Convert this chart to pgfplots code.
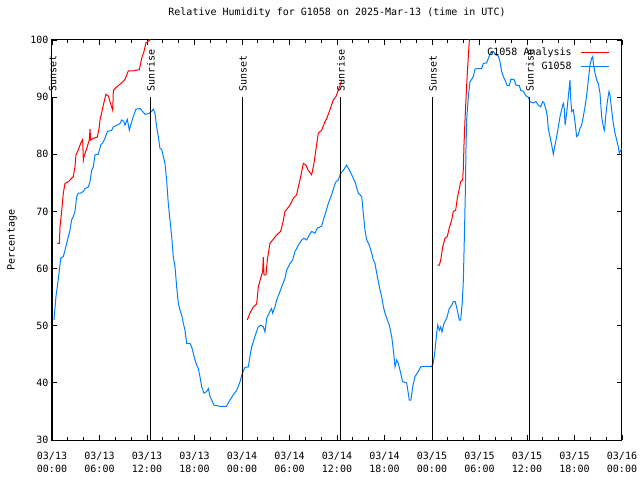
\documentclass[border=0pt]{standalone}
\usepackage{fontspec}
\setmainfont{DejaVu Sans Mono}
\usepackage{pgfplots}
\pgfplotsset{compat=1.18}
\definecolor{rhred}{RGB}{255,0,0}
\definecolor{rhblue}{RGB}{0,128,255}
\begin{document}
\begin{tikzpicture}
\useasboundingbox (0,0) rectangle (640pt,480pt);
\begin{axis}[
  at={(52pt,40pt)}, anchor=south west,
  scale only axis, width=570pt, height=400pt,
  xmin=0, xmax=72, ymin=30, ymax=100,
  xtick={0,6,...,72}, minor xtick={0,2,...,72},
  ytick={30,40,...,100},
  xticklabels={{03/13\\00:00},{03/13\\06:00},{03/13\\12:00},{03/13\\18:00},{03/14\\00:00},{03/14\\06:00},{03/14\\12:00},{03/14\\18:00},{03/15\\00:00},{03/15\\06:00},{03/15\\12:00},{03/15\\18:00},{03/16\\00:00}},
  xticklabel style={align=center, font=\fontsize{10}{13}\selectfont, yshift=-9pt},
  yticklabel style={font=\fontsize{10}{12}\selectfont},
  /pgf/number format/assume math mode=true,
  tick align=inside, major tick length=5pt, minor tick length=3pt,
  every tick/.style={black, line width=0.8pt},
  axis line style={black, line width=1pt},
  ylabel={Percentage},
  ylabel style={at={(axis description cs:-0.0702,0.5)}, anchor=center, font=\fontsize{10}{12}\selectfont},
  title={Relative Humidity for G1058 on 2025-Mar-13 (time in UTC)},
  title style={at={(axis description cs:0.5,1.0525)}, anchor=center, font=\fontsize{10}{12}\selectfont},
  unbounded coords=jump,
  clip mode=individual,
  legend plot pos=right,
  legend cell align=right,
  legend style={draw=none, fill=none, at={(axis description cs:0.979,0.985)}, anchor=north east,
    inner sep=0pt, row sep=1pt, font=\fontsize{10}{12}\selectfont},
]
\addplot[rhred, line width=1pt,
  legend image code/.code={\path (0pt,0pt); \draw[rhred, line width=1.3pt] (7pt,0pt) -- (35pt,0pt);}] coordinates {
(0.67,64.4) (0.93,64.4) (1.01,67.3) (1.22,70.0) (1.43,73.2) (1.64,74.9) (2.06,75.2) (2.69,76.1)
(2.9,77.8) (3.03,79.9) (3.33,80.8) (3.62,81.9) (3.87,82.6) (3.96,79.0) (4.04,79.6) (4.38,81.0)
(4.71,82.5) (4.8,84.4) (4.88,82.5) (5.22,82.8) (5.72,83.0) (5.98,84.8) (6.06,86.0) (6.27,87.2)
(6.48,88.6) (6.82,90.5) (7.11,90.2) (7.33,89.2) (7.67,87.7) (7.75,91.2) (8.17,91.8) (8.8,92.5)
(9.22,93.1) (9.64,94.6) (10.27,94.6) (11.03,94.8) (11.33,96.8) (11.62,98.0) (11.87,99.5) (12.38,100) (12.6,100.5)
(12.7,nan)
(24.67,51.0) (25.0,52.2) (25.43,53.3) (25.85,53.8) (26.06,56.8) (26.36,58.3) (26.61,59.5) (26.69,62.0)
(26.78,58.9) (27.03,58.9) (27.2,61.5) (27.53,64.4) (27.87,65.0) (28.38,65.9) (28.88,66.5) (29.14,67.9)
(29.43,70.0) (29.73,70.5) (30.06,71.1) (30.48,72.3) (30.9,72.9) (31.12,74.3) (31.42,76.1) (31.74,78.4)
(32.08,78.1) (32.37,77.2) (32.8,76.4) (33.09,78.4) (33.51,82.5) (33.64,83.7) (34.06,84.2) (34.48,85.7)
(34.77,86.5) (35.11,87.8) (35.53,89.5) (35.87,90.1) (36.16,91.2) (36.47,92.4) (36.6,93.0)
(37,nan)
(48.67,60.6) (48.93,60.6) (49.1,61.5) (49.35,63.8) (49.64,65.3) (49.93,65.6) (50.18,67.1) (50.49,68.5)
(50.69,70.0) (50.99,70.2) (51.2,72.3) (51.45,74.0) (51.62,75.2) (51.87,75.5) (51.96,77.5) (52.04,81.6)
(52.17,86.0) (52.3,89.8) (52.46,94.2) (52.59,97.1) (52.72,100) (52.8,101)
};
\addlegendentry{G1058 Analysis}
\addplot[rhblue, line width=1pt,
  legend image code/.code={\path (0pt,0pt); \draw[rhblue, line width=1.3pt] (7pt,0pt) -- (35pt,0pt);}] coordinates {
(0.25,51.0) (0.5,55.1) (0.67,56.8) (0.93,59.7) (1.1,61.8) (1.43,62.1) (1.64,63.2) (1.85,64.4)
(2.06,65.6) (2.27,66.7) (2.48,68.5) (2.69,69.1) (2.9,70.0) (3.12,72.6) (3.33,73.2) (3.62,73.2)
(3.96,73.5) (4.17,74.0) (4.59,74.3) (4.8,75.2) (5.01,77.2) (5.22,77.8) (5.43,79.9) (5.85,80.0)
(6.15,81.6) (6.48,82.2) (6.69,82.8) (6.99,84.0) (7.54,84.2) (7.75,84.8) (8.25,85.1) (8.59,85.4)
(8.8,86.0) (9.09,85.7) (9.22,85.1) (9.51,86.1) (9.77,84.2) (9.94,85.1) (10.27,86.6) (10.61,87.9)
(11.11,88.0) (11.45,87.5) (11.75,87.0) (12.17,87.1) (12.59,87.5) (12.8,87.9) (13.01,87.2) (13.22,84.8)
(13.43,83.1) (13.64,81.0) (13.86,80.9) (14.06,79.6) (14.27,78.4) (14.48,75.5) (14.69,71.4) (14.9,68.5)
(15.12,65.6) (15.32,62.1) (15.54,60.3) (15.75,56.8) (15.96,53.9) (16.17,52.7) (16.38,51.9) (16.59,50.4)
(16.8,49.2) (17.01,46.9) (17.43,46.9) (17.64,46.3) (17.85,45.2) (18.06,44.0) (18.28,43.1) (18.48,42.5)
(18.69,41.1) (18.91,39.3) (19.2,38.2) (19.54,38.5) (19.75,39.0) (19.96,37.6) (20.17,37.0) (20.46,36.1)
(21.22,35.9) (22.05,35.9) (22.48,37.0) (22.9,37.9) (23.33,38.7) (23.75,40.2) (24.04,41.7) (24.38,42.7)
(24.8,42.8) (25.0,44.6) (25.22,46.3) (25.43,47.2) (25.77,48.7) (26.06,49.8) (26.36,50.1) (26.69,49.8)
(26.9,48.9) (27.12,51.3) (27.53,52.5) (27.74,53.0) (27.87,52.2) (28.17,53.3) (28.38,54.5) (28.72,55.7)
(29.01,56.8) (29.43,58.3) (29.64,59.7) (30.06,60.9) (30.4,61.5) (30.69,63.0) (30.9,63.5) (31.12,64.1)
(31.54,65.0) (31.83,65.3) (32.17,65.0) (32.5,65.9) (32.8,66.5) (33.22,66.2) (33.51,67.1) (34.06,67.4)
(34.27,68.5) (34.61,70.0) (34.9,71.4) (35.32,72.9) (35.62,74.3) (35.87,75.2) (36.16,75.5) (36.47,76.7)
(36.8,77.2) (37.22,78.1) (37.56,77.2) (37.85,76.4) (38.27,75.2) (38.69,73.2) (39.12,72.6) (39.32,69.7)
(39.54,66.7) (39.75,65.0) (40.08,64.1) (40.38,62.7) (40.59,61.5) (40.8,60.9) (41.01,59.2) (41.22,57.7)
(41.43,56.3) (41.64,55.1) (41.86,53.3) (42.06,52.2) (42.36,51.0) (42.61,50.1) (42.91,48.1) (43.12,45.7)
(43.33,42.8) (43.54,44.0) (43.75,43.4) (43.96,42.2) (44.29,40.2) (44.8,40.0) (45.0,38.2) (45.13,37.0)
(45.34,37.0) (45.56,39.3) (45.85,41.1) (46.27,42.0) (46.57,42.8) (47.12,42.9) (47.96,42.9) (48.17,43.5)
(48.38,45.7) (48.59,48.7) (48.72,50.1) (48.93,49.2) (49.1,49.8) (49.26,48.9) (49.51,50.4) (49.86,51.3)
(50.18,53.0) (50.49,53.6) (50.69,54.2) (50.94,54.2) (51.2,52.7) (51.45,51.0) (51.62,51.0) (51.83,54.2)
(51.96,58.0) (52.09,65.6) (52.21,73.2) (52.3,81.6) (52.38,86.0) (52.59,90.1) (52.8,92.7) (53.01,93.1)
(53.22,93.6) (53.43,94.9) (53.64,95.0) (54.27,95.0) (54.48,95.9) (54.9,96.0) (55.12,96.8) (55.42,97.8)
(55.75,98.0) (56.08,97.4) (56.38,97.2) (56.59,96.2) (56.8,94.5) (57.01,93.6) (57.22,93.0) (57.51,92.0)
(57.77,92.0) (57.94,93.1) (58.36,93.1) (58.61,92.1) (59.03,92.0) (59.21,91.2) (59.54,91.0) (59.88,90.2)
(60.17,90.0) (60.38,89.2) (60.8,89.0) (61.14,89.2) (61.43,88.6) (61.73,88.3) (61.99,89.2) (62.15,89.0)
(62.4,87.8) (62.57,86.6) (62.69,84.5) (62.9,83.1) (63.12,81.6) (63.33,80.0) (63.54,81.6) (63.75,83.1)
(63.96,84.8) (64.17,86.6) (64.38,87.8) (64.51,88.6) (64.6,88.9) (64.72,87.8) (64.81,85.1) (65.01,87.2)
(65.22,90.1) (65.43,93.0) (65.52,89.8) (65.64,87.5) (65.85,87.8) (66.06,85.7) (66.27,83.1) (66.48,83.4)
(66.69,84.5) (66.9,85.1) (67.11,86.6) (67.33,88.3) (67.54,90.4) (67.75,93.0) (67.96,95.6) (68.17,96.8)
(68.3,97.1) (68.38,95.9) (68.59,94.2) (68.8,93.0) (69.01,92.4) (69.22,90.7) (69.43,86.6) (69.64,84.8)
(69.77,84.2) (69.85,85.1) (69.98,87.2) (70.15,89.2) (70.36,91.0) (70.48,90.4) (70.69,87.8) (70.9,85.4)
(71.12,83.7) (71.33,82.5) (71.54,81.3) (71.66,80.2) (71.87,80.8) (72.0,81.0)
};
\addlegendentry{G1058}
% sunrise / sunset markers
\addplot[black, line width=1pt, forget plot] coordinates {(0.05,30) (0.05,90)};
\addplot[black, line width=1pt, forget plot] coordinates {(12.42,30) (12.42,90)};
\addplot[black, line width=1pt, forget plot] coordinates {(24.04,30) (24.04,90)};
\addplot[black, line width=1pt, forget plot] coordinates {(36.42,30) (36.42,90)};
\addplot[black, line width=1pt, forget plot] coordinates {(48.04,30) (48.04,90)};
\addplot[black, line width=1pt, forget plot] coordinates {(60.29,30) (60.29,90)};
\node[rotate=90, anchor=west, inner sep=0pt, font=\fontsize{10}{12}\selectfont] at (axis cs:0.1,90.9) {Sunset};
\node[rotate=90, anchor=west, inner sep=0pt, font=\fontsize{10}{12}\selectfont] at (axis cs:12.5,90.9) {Sunrise};
\node[rotate=90, anchor=west, inner sep=0pt, font=\fontsize{10}{12}\selectfont] at (axis cs:24.12,90.9) {Sunset};
\node[rotate=90, anchor=west, inner sep=0pt, font=\fontsize{10}{12}\selectfont] at (axis cs:36.5,90.9) {Sunrise};
\node[rotate=90, anchor=west, inner sep=0pt, font=\fontsize{10}{12}\selectfont] at (axis cs:48.12,90.9) {Sunset};
\node[rotate=90, anchor=west, inner sep=0pt, font=\fontsize{10}{12}\selectfont] at (axis cs:60.37,90.9) {Sunrise};
\end{axis}
\end{tikzpicture}
\end{document}
